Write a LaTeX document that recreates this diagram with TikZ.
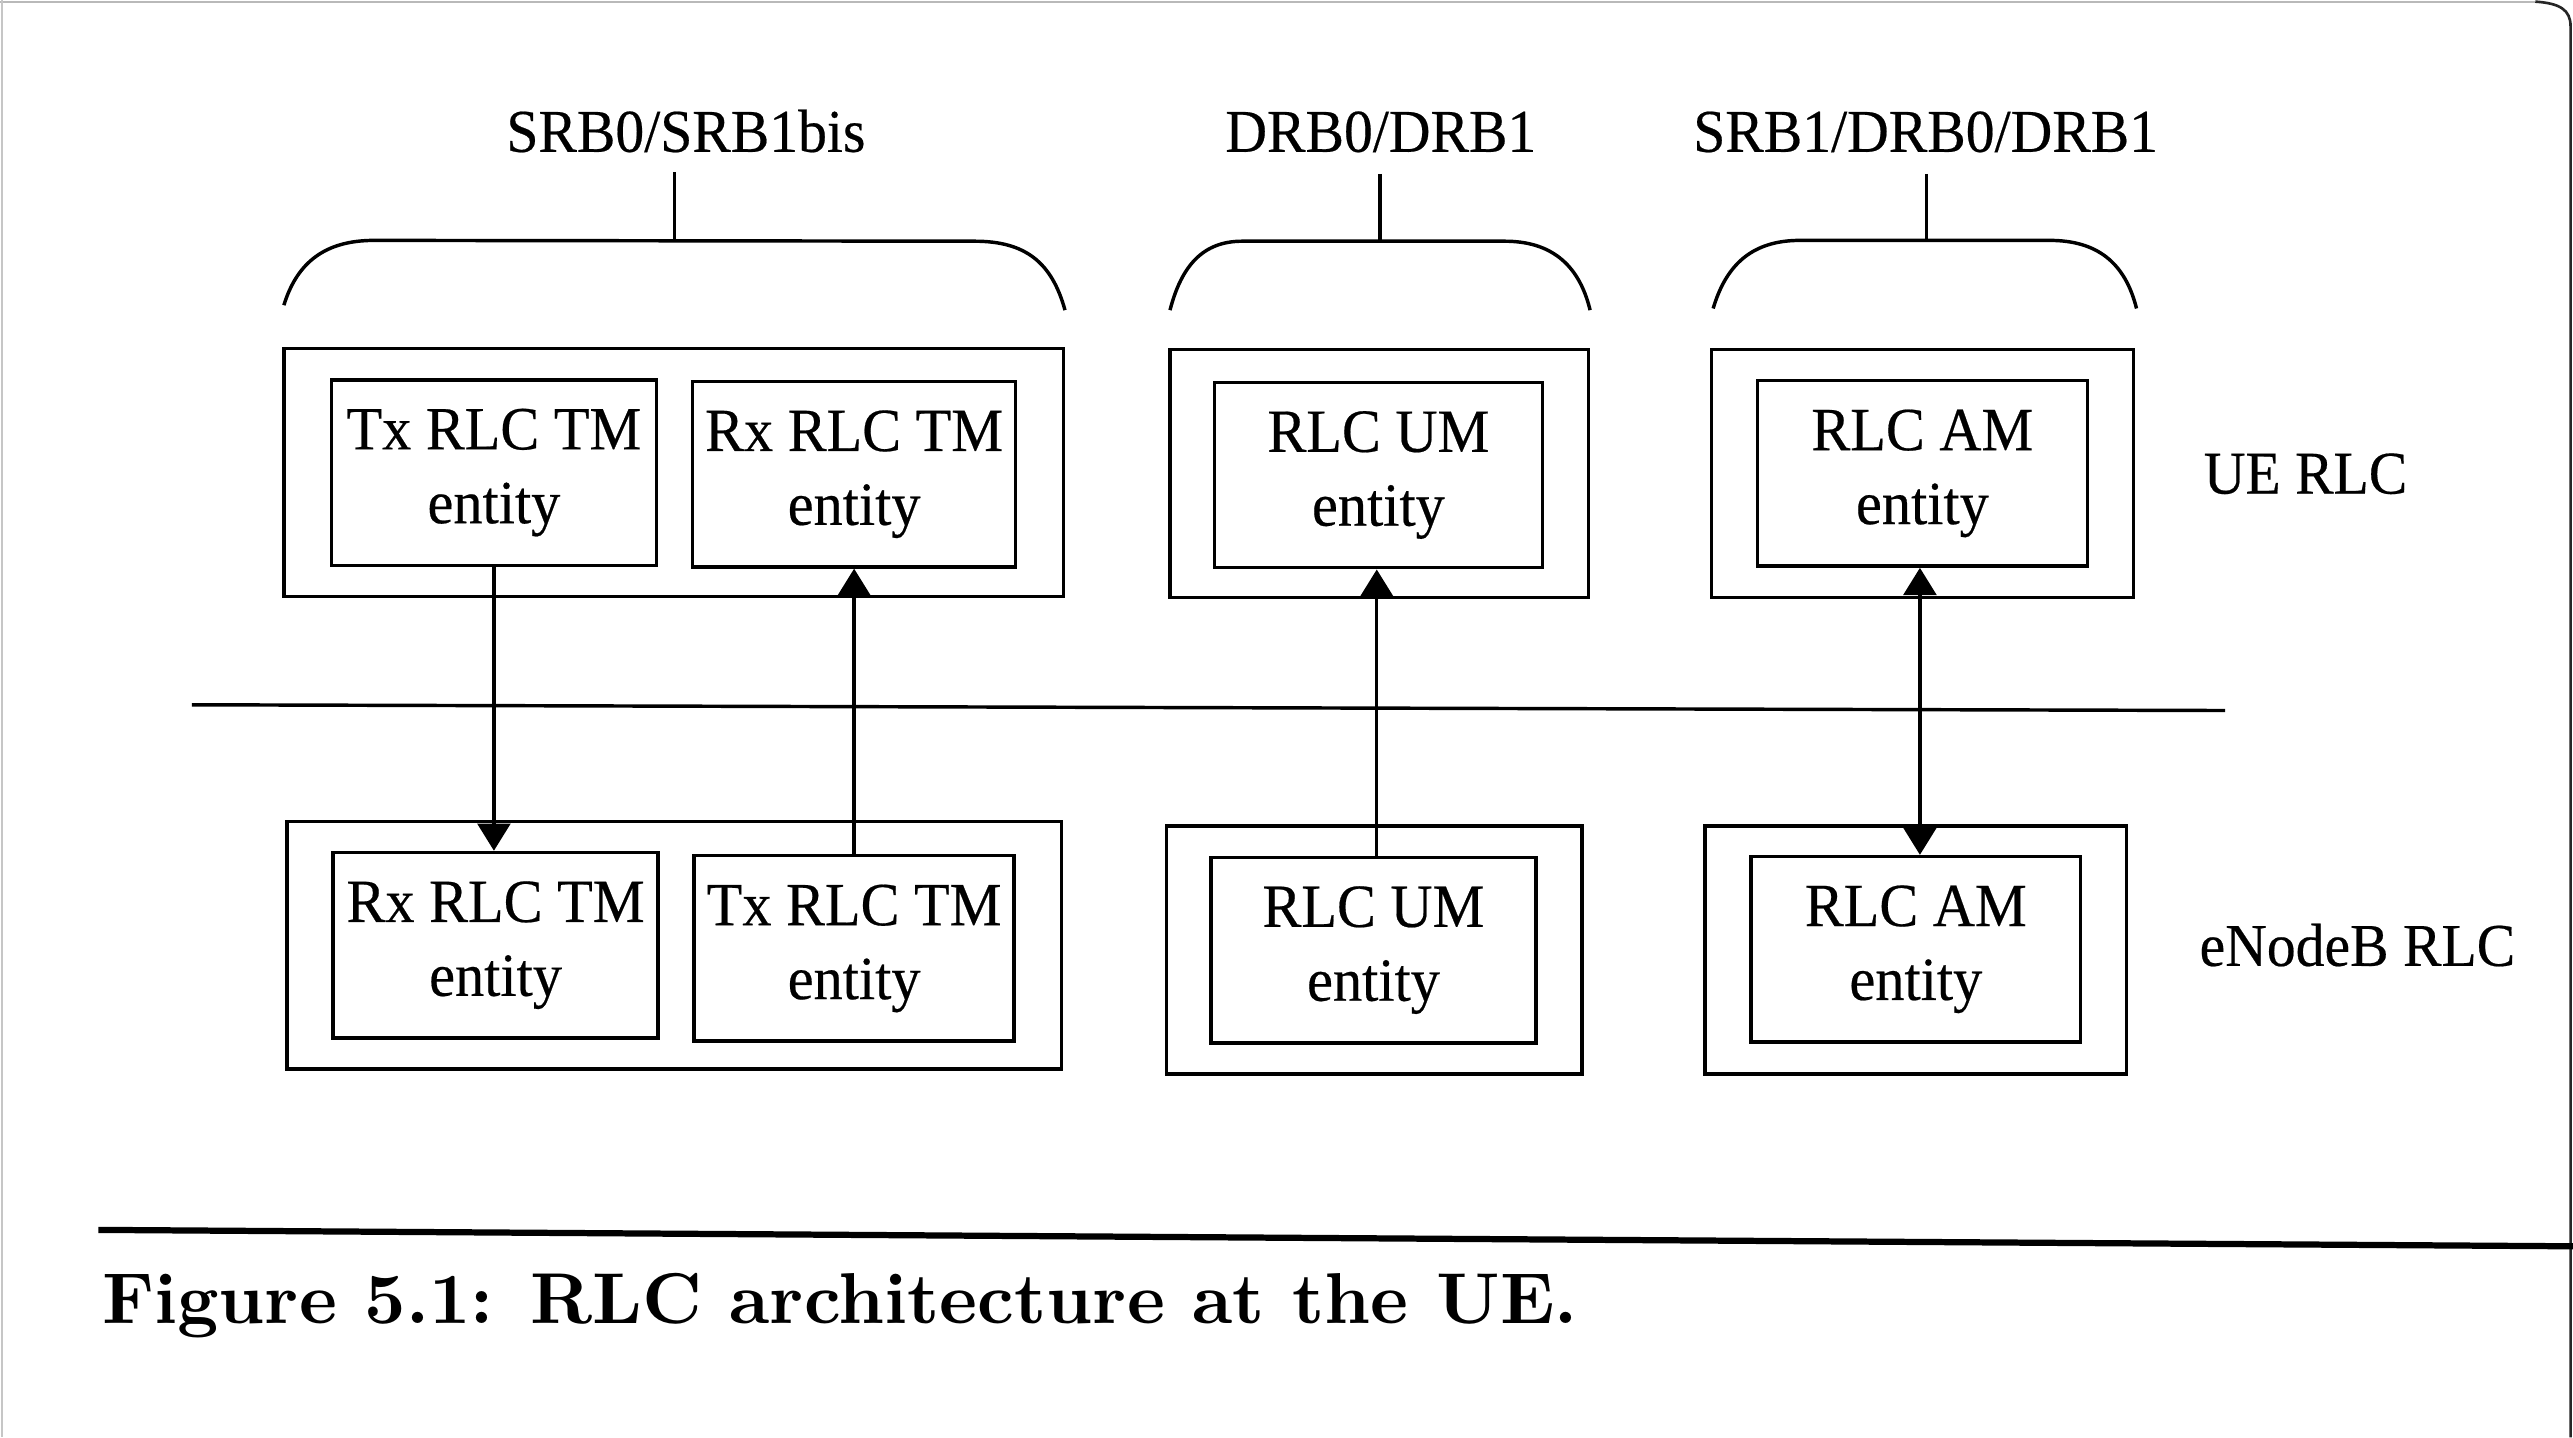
\documentclass[tikz,border=0pt]{standalone}
\usepackage{fontspec}
\usetikzlibrary{arrows.meta}
\newfontfamily\labfont[FakeStretch=0.95,FakeBold=0.35]{Liberation Serif}
\newfontfamily\capfont{lmroman10-bold}[Extension=.otf]
\begin{document}
\begin{tikzpicture}[x=0.5pt,y=-0.5pt,
  ln/.style={line width=1.05pt},
  inbox/.style={draw,ln,rectangle,inner sep=0pt,minimum width=99pt,minimum height=56.5pt,
     align=center,font=\labfont\fontsize{18.7}{22.5}\selectfont},
  outbox/.style={draw,ln,rectangle,inner sep=0pt,minimum height=75.5pt},
  lbl/.style={inner sep=0pt,anchor=base,font=\labfont\fontsize{18.5}{22.5}\selectfont},
  arr/.style={ln,-{Triangle[length=8.3pt,width=10pt]}},
  darr/.style={ln,{Triangle[length=8.3pt,width=10pt]}-{Triangle[length=8.3pt,width=10pt]}}]
\useasboundingbox (0,0) rectangle (1568,876);
\fill[white] (0,0) rectangle (1568,876);
% scan page edges
\draw[gray!55,line width=0.6pt] (0,1) -- (1545,1);
\draw[gray!45,line width=0.6pt] (1,0) -- (1,876);
\draw[black!85,line width=0.8pt] (1545,1) .. controls (1560,2) and (1566.5,6) .. (1566.5,16) -- (1566.5,876);

% top labels
\node[lbl] (l1) at (418,92.5) {SRB0/SRB1bis};
\node[lbl] (l2) at (841.5,92.5) {DRB0/DRB1};
\node[lbl] (l3) at (1173.5,92.5) {SRB1/DRB0/DRB1};

% ticks and braces
\coordinate (t1a) at (411,105); \coordinate (t1b) at (411,147);
\coordinate (t2a) at (841,106); \coordinate (t2b) at (841,147);
\coordinate (t3a) at (1174,106); \coordinate (t3b) at (1174,147);
\draw[ln] (t1a) -- (t1b);
\draw[ln] (t2a) -- (t2b);
\draw[ln] (t3a) -- (t3b);
\draw[ln] (173,186) .. controls (181,160) and (198,146.5) .. (228,146.5) -- (594,147)
   .. controls (625,147) and (641,160) .. (649,189);
\draw[ln] (713,189) .. controls (720,162) and (733,147) .. (757,147) -- (917,147)
   .. controls (944,147) and (962,160) .. (969,189);
\draw[ln] (1044,188) .. controls (1052,161) and (1068,146.5) .. (1097,146.5) -- (1249,146.5)
   .. controls (1278,146.5) and (1295,160) .. (1302,188);

% UE side
\node[outbox,minimum width=237.5pt] (ueG1) at (410.5,288) {};
\node[outbox,minimum width=127.5pt] (ueG2) at (840.5,288.5) {};
\node[outbox,minimum width=128.5pt] (ueG3) at (1171.5,288.5) {};
\node[inbox] (ueTx) at (301,288) {Tx RLC TM\\entity};
\node[inbox,minimum width=98.5pt] (ueRx) at (520.5,289) {Rx RLC TM\\entity};
\node[inbox,minimum width=100pt] (ueUM) at (840,289.5) {RLC UM\\entity};
\node[inbox,minimum width=100.5pt] (ueAM) at (1171.5,288.5) {RLC AM\\entity};
\node[lbl] (ueLbl) at (1405,300.8) {UE RLC};

% separator
\coordinate (sepL) at (117,429.5);
\coordinate (sepR) at (1356,433);
\draw[ln] (sepL) -- (sepR);

% eNodeB side
\node[outbox,minimum width=236pt] (enG1) at (411,576) {};
\node[outbox,minimum width=126.5pt] (enG2) at (837.5,579) {};
\node[outbox,minimum width=128.5pt] (enG3) at (1167.5,579) {};
\node[inbox] (enRx) at (302,576) {Rx RLC TM\\entity};
\node[inbox,minimum width=97.5pt] (enTx) at (520.5,578) {Tx RLC TM\\entity};
\node[inbox] (enUM) at (837,579) {RLC UM\\entity};
\node[inbox,minimum width=100.5pt] (enAM) at (1167.5,578.5) {RLC AM\\entity};
\node[lbl] (enLbl) at (1436.6,588.6) {eNodeB RLC};

% connectors
\draw[arr] (ueTx.south) -- (ueTx.south |- enRx.north);
\draw[arr] (enTx.north) -- (enTx.north |- ueRx.south);
\draw[arr] (enUM.north -| 839,0) -- (839,0 |- ueUM.south);
\draw[darr] (1170,0 |- ueAM.south) -- (1170,0 |- enAM.north);

% bottom rule and caption
\coordinate (ruleL) at (60,749.5);
\coordinate (ruleR) at (1568,759.5);
\draw[line width=1.9pt] (ruleL) -- (ruleR);
\node[inner sep=0pt,anchor=base west,font=\capfont\fontsize{21.95}{26}\selectfont] (cap) at (62,806.6)
  {Figure 5.1: RLC architecture at the UE.};
\end{tikzpicture}
\end{document}
